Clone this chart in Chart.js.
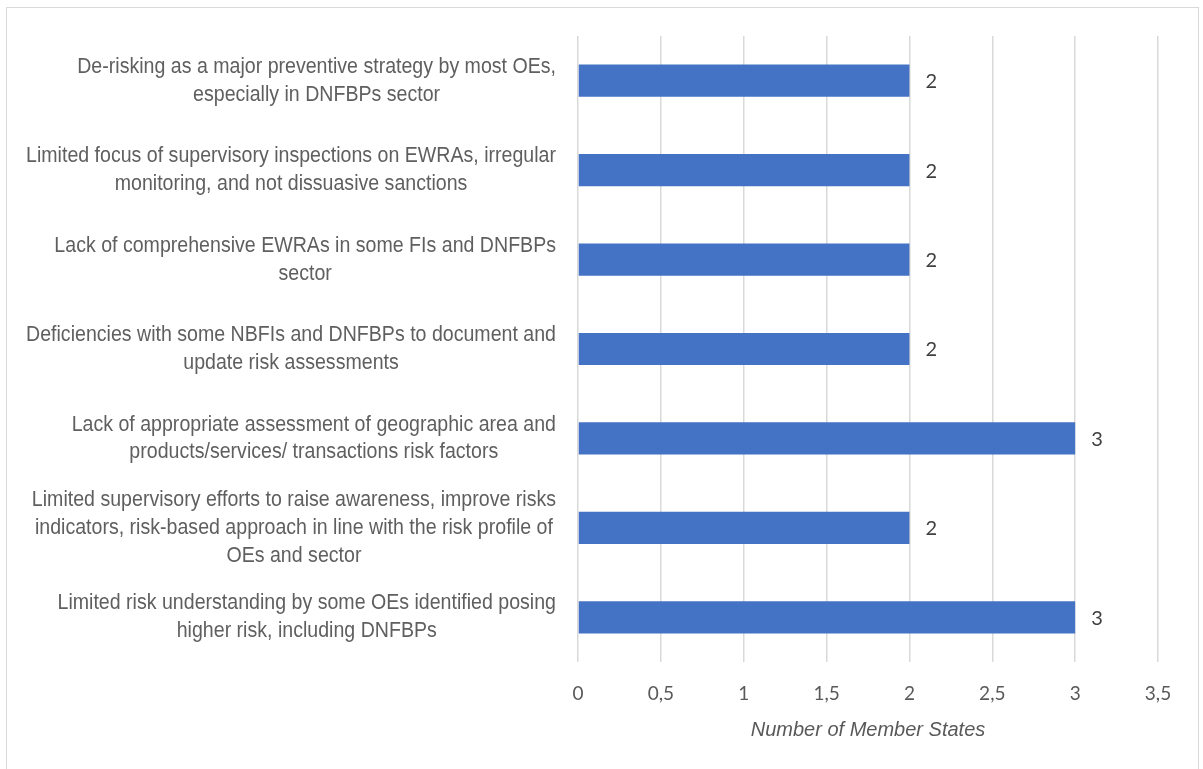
<!DOCTYPE html>
<html><head><meta charset="utf-8">
<script src="https://cdn.jsdelivr.net/npm/chart.js@4"></script>
<style>
html,body{margin:0;padding:0;background:#fff;overflow:hidden}
#frame{position:absolute;left:6px;top:7px;width:1193px;height:770px;border:1px solid #d9d9d9;box-sizing:border-box}
#wrap{position:absolute;left:0;top:0;width:1203px;height:769px}
</style></head><body>
<div id="frame"></div>
<div id="wrap"><canvas id="c"></canvas></div>
<script>
const categories = [
  ["De-risking as a major preventive strategy by most OEs,", "especially in DNFBPs sector"],
  ["Limited focus of supervisory inspections on EWRAs, irregular", "monitoring, and not dissuasive sanctions"],
  ["Lack of comprehensive EWRAs in some FIs and DNFBPs", "sector"],
  ["Deficiencies with some NBFIs and DNFBPs to document and", "update risk assessments"],
  ["Lack of appropriate assessment of geographic area and", "products/services/ transactions risk factors"],
  ["Limited supervisory efforts to raise awareness, improve risks", "indicators, risk-based approach in line with the risk profile of", "OEs and sector"],
  ["Limited risk understanding by some OEs identified posing", "higher risk, including DNFBPs"]
];
const values = [2, 2, 2, 2, 3, 2, 3];
const xMin = 0, xMax = 3.5, xStep = 0.5;
const axisTitle = "Number of Member States";

const LABEL_FONT = "22px 'Liberation Sans', Arial, sans-serif";
const SQUEEZE = 0.89;

const labelPlugin = {
  id: 'catLabels',
  afterDraw(chart) {
    const ctx = chart.ctx;
    const ys = chart.scales.y;
    const rightEdge = chart.chartArea.left - 22;
    ctx.save();
    ctx.font = LABEL_FONT;
    ctx.fillStyle = '#5f5f5f';
    ctx.textAlign = 'center';
    ctx.textBaseline = 'middle';
    const lh = 27.8;
    categories.forEach((lines, i) => {
      const yc = ys.getPixelForValue(i);
      const maxW = Math.max(...lines.map(l => ctx.measureText(l).width)) * SQUEEZE;
      const cx = rightEdge - maxW / 2;
      const y0 = yc - (lines.length - 1) * lh / 2;
      lines.forEach((l, j) => {
        ctx.save();
        ctx.translate(cx, y0 + j * lh);
        ctx.scale(SQUEEZE, 1);
        ctx.fillText(l, 0, 0);
        ctx.restore();
      });
    });
    ctx.restore();
  }
};

const valuePlugin = {
  id: 'valLabels',
  afterDatasetsDraw(chart) {
    const ctx = chart.ctx;
    const meta = chart.getDatasetMeta(0);
    ctx.save();
    ctx.font = "20px Lato, 'Open Sans', sans-serif";
    ctx.fillStyle = '#404040';
    ctx.textAlign = 'left';
    ctx.textBaseline = 'middle';
    meta.data.forEach((bar, i) => {
      ctx.fillText(String(values[i]), bar.x + 16, bar.y + 1);
    });
    ctx.restore();
  }
};

new Chart(document.getElementById('c'), {
  type: 'bar',
  data: {
    labels: categories.map(c => c.join(' ')),
    datasets: [{
      data: values,
      backgroundColor: '#4472C4',
      borderWidth: 0,
      categoryPercentage: 1,
      barPercentage: 0.36
    }]
  },
  options: {
    indexAxis: 'y',
    responsive: true,
    maintainAspectRatio: false,
    animation: false,
    layout: { padding: { left: 0, right: 45, top: 36, bottom: 27 } },
    plugins: { legend: { display: false }, tooltip: { enabled: false } },
    scales: {
      x: {
        min: xMin, max: xMax,
        ticks: {
          stepSize: xStep,
          color: '#595959',
          font: { family: "Lato, 'Open Sans', sans-serif", size: 19 },
          padding: 20,
          callback: v => String(v).replace('.', ',')
        },
        grid: { color: '#d9d9d9', lineWidth: 1.5, drawTicks: false },
        border: { display: false },
        title: {
          display: true,
          text: axisTitle,
          color: '#595959',
          font: { family: "'Liberation Sans', Arial, sans-serif", size: 20, style: 'italic' },
          padding: { top: 10, bottom: 0 }
        },
        afterFit(s) { s.height = 80; }
      },
      y: {
        ticks: { display: false },
        grid: { display: false },
        border: { display: false },
        afterFit(s) { s.width = 578; }
      }
    }
  },
  plugins: [labelPlugin, valuePlugin]
});
</script>
</body></html>
